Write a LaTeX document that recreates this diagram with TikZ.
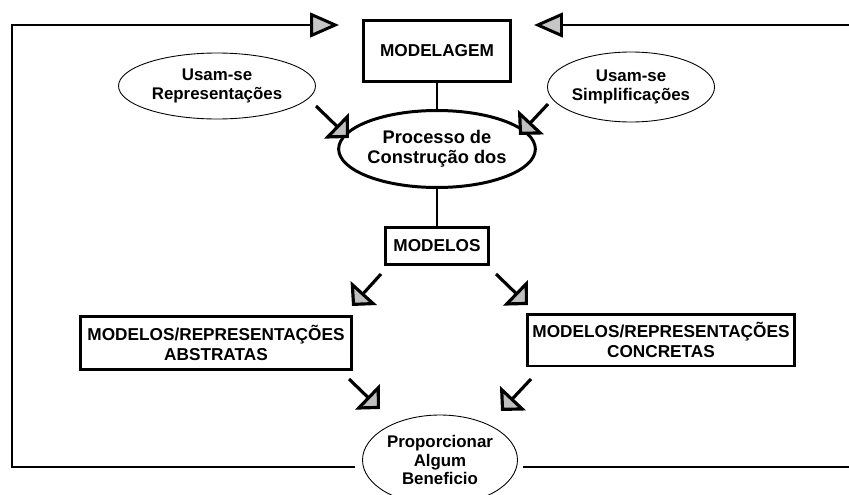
\documentclass[tikz,border=0pt]{standalone}
\usepackage{fontspec}
\setsansfont{Liberation Sans}
\usepackage{tikz}
\usetikzlibrary{arrows.meta, positioning, shapes.geometric}

\begin{document}
\begin{tikzpicture}[x=0.02cm, y=-0.02cm,
  box/.style={draw, line width=1.7pt, align=center, inner sep=0pt,
    font=\sffamily\bfseries\fontsize{9.8}{11.5}\selectfont},
  bigoval/.style={draw, ellipse, line width=1.7pt, align=center, inner sep=0pt,
    font=\sffamily\bfseries\fontsize{10.4}{11.5}\selectfont},
  thinoval/.style={draw, ellipse, line width=0.5pt, align=center, inner sep=0pt,
    font=\sffamily\bfseries\fontsize{9.6}{10.4}\selectfont},
  link/.style={line width=1.7pt},
  tilt/.style={line width=1.8pt, -{Triangle[length=10pt, width=20pt, fill=gray!50]}},
  back/.style={line width=1.7pt, -{Triangle[length=16.5pt, width=14pt, fill=gray!45]}}]
  \useasboundingbox (0,0) rectangle (849,494);
  \clip (0,0) rectangle (849,494);

  %--- top: modelling and how it is done ---
  \node[box, minimum width=2.96cm, minimum height=1.22cm] (modelagem) at (437,51) {MODELAGEM};
  \node[thinoval, minimum width=3.94cm, minimum height=1.32cm] (repr) at (217,86)
    {Usam-se\\Representações};
  \node[thinoval, minimum width=3.26cm, minimum height=1.40cm] (simpl) at (631,87)
    {Usam-se\\Simplificações};
  \node[bigoval, minimum width=3.32cm, minimum height=1.54cm] (processo) at (437,149)
    {Processo de\\Construção dos};
  \draw[link] (modelagem.south) -- (processo.north);

  %--- middle: the models ---
  \node[box, minimum width=2.06cm, minimum height=0.74cm] (modelos) at (437,246) {MODELOS};
  \draw[link] (processo.south) -- (modelos.north);
  \node[box, minimum width=5.44cm, minimum height=1.06cm] (abstr) at (216,343)
    {MODELOS/REPRESENTAÇÕES\\ABSTRATAS};
  \node[box, minimum width=5.34cm, minimum height=1.04cm] (concr) at (661,340)
    {MODELOS/REPRESENTAÇÕES\\CONCRETAS};

  %--- bottom: the benefit ---
  \node[thinoval, minimum width=3.10cm, minimum height=1.80cm] (benef) at (440,460)
    {Proporcionar\\Algum\\Beneficio};

  % loose arrows between the parts
  \coordinate (r0) at (316,106); \coordinate (r1) at (349,138);
  \coordinate (s0) at (548,104); \coordinate (s1) at (519,135);
  \coordinate (a0) at (381,274); \coordinate (a1) at (352,306);
  \coordinate (c0) at (496,274); \coordinate (c1) at (528,305);
  \coordinate (b0) at (349,379); \coordinate (b1) at (380,409);
  \coordinate (d0) at (531,379); \coordinate (d1) at (501,411);
  \draw[tilt] (r0) -- (r1);
  \draw[tilt] (s0) -- (s1);
  \draw[tilt] (a0) -- (a1);
  \draw[tilt] (c0) -- (c1);
  \draw[tilt] (b0) -- (b1);
  \draw[tilt] (d0) -- (d1);

  % feedback loops back to the top
  \coordinate (cornerL) at (12,25);  \coordinate (tipL) at (339,25);
  \coordinate (cornerR) at (864,25); \coordinate (tipR) at (534,25);
  \draw[back] ([shift={(-7,7)}]benef.west) -| (cornerL) -- (tipL);
  \draw[back] ([shift={(5,7)}]benef.east) -| (cornerR) -- (tipR);
\end{tikzpicture}
\end{document}
